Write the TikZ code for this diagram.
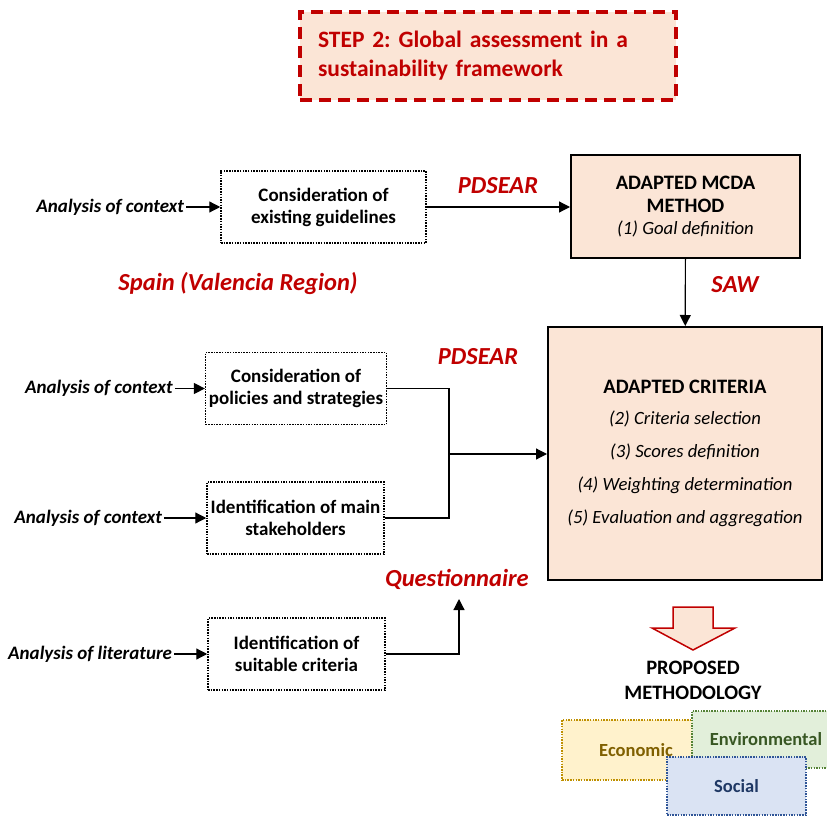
\documentclass[tikz,border=0pt]{standalone}
\usepackage{fontspec}
\setmainfont{Carlito}
\usetikzlibrary{positioning, arrows.meta}

\definecolor{darkred}{RGB}{192,0,0}
\definecolor{peach}{RGB}{251,229,214}
\definecolor{econfill}{RGB}{255,242,204}
\definecolor{econline}{RGB}{191,144,0}
\definecolor{econtext}{RGB}{128,96,0}
\definecolor{envfill}{RGB}{226,239,218}
\definecolor{envline}{RGB}{84,130,53}
\definecolor{envtext}{RGB}{56,87,35}
\definecolor{socfill}{RGB}{218,227,243}
\definecolor{socline}{RGB}{47,85,151}
\definecolor{soctext}{RGB}{31,56,100}

\begin{document}
\frenchspacing
\begin{tikzpicture}[x=1pt, y=-1pt,
  every node/.style={font=\fontsize{19}{22}\selectfont},
  dotbox/.style={draw, line width=1.5pt, dash pattern=on 1.5pt off 1.2pt,
    minimum height=72, align=center, font=\fontsize{19}{22}\selectfont\bfseries},
  mainbox/.style={draw, line width=2pt, fill=peach, align=center},
  ctxlab/.style={inner sep=2pt, font=\fontsize{19}{22}\selectfont\bfseries\itshape},
  redlab/.style={text=darkred, font=\fontsize{24.5}{28}\selectfont\bfseries\itshape},
  colbox/.style={line width=1.5pt, dash pattern=on 1.5pt off 1.2pt,
    font=\fontsize{18.5}{22}\selectfont\bfseries},
  arr/.style={-{Triangle[length=11pt, width=11pt]}, line width=1.2pt}]
\useasboundingbox (0,0) rectangle (827,818);

% title
\node (step) [draw=darkred, line width=3.5pt, dash pattern=on 12pt off 7pt,
  fill=peach, minimum height=88, text width=340, inner xsep=18pt, align=left,
  text=darkred, font=\fontsize{23.5}{29}\selectfont\bfseries] at (488,56)
  {STEP 2: Global assessment in a\\sustainability framework};

% left column
\node (guide) [dotbox, minimum width=205] at (323.5,207) {Consideration of\\existing guidelines};
\node (policy) [dotbox, minimum width=178] at (296,388.5) {Consideration of\\policies and strategies};
\node (stake) [dotbox, minimum width=177] at (295.5,518) {Identification of main\\stakeholders};
\node (suit) [dotbox, minimum width=177] at (296.5,654) {Identification of\\suitable criteria};

\node (ctx1) [ctxlab, left=34pt of guide] {Analysis of context};
\node (ctx2) [ctxlab, left=30pt of policy] {Analysis of context};
\node (ctx3) [ctxlab, left=42pt of stake] {Analysis of context};
\node (lit) [ctxlab, left=33pt of suit] {Analysis of literature};

% right column
\node (mcda) [mainbox, minimum width=229, minimum height=103] at (685.5,206.5)
  {\fontsize{20.5}{24}\selectfont\bfseries ADAPTED MCDA\\[1pt]
   \fontsize{20.5}{24}\selectfont\bfseries METHOD\\
   \fontsize{18.7}{22}\selectfont\itshape (1) Goal definition};
\node (crit) [mainbox, minimum width=274, minimum height=253,
  font=\fontsize{18.7}{22}\selectfont\itshape] at (685,453.5)
  {{\fontsize{20.5}{24}\selectfont\bfseries\upshape ADAPTED CRITERIA}\\[9pt]
   (2) Criteria selection\\[11pt]
   (3) Scores definition\\[11pt]
   (4) Weighting determination\\[11pt]
   (5) Evaluation and aggregation};

% red labels
\node (pd1) [redlab] at (498,186) {PDSEAR};
\node (spain) [redlab] at (238,283) {Spain (Valencia Region)};
\node (saw) [redlab] at (735,285) {SAW};
\node (pd2) [redlab] at (478,357) {PDSEAR};
\node (quest) [redlab] at (457,579) {Questionnaire};

% connectors
\draw[arr] (ctx1) -- (guide);
\draw[arr] (ctx2) -- (policy);
\draw[arr] (ctx3) -- (stake);
\draw[arr] (lit) -- (suit);
\draw[arr] (guide.east) -- (guide.east -| mcda.west);
\draw[arr] (mcda) -- (crit);
\coordinate (join) at (449,454);
\draw[line width=1.2pt] (policy.east) -| (join);
\draw[line width=1.2pt] (stake.east) -| (join);
\draw[arr] (join) -- (join -| crit.west);
\coordinate (qtip) at (459,599);
\draw[arr] (suit.east) -| (qtip);

% outcome
\draw[darkred, line width=1.5pt, fill=peach]
  (673,607) -- (713,607) -- (713,628) -- (735,628) -- (693,650)
  -- (652,628) -- (673,628) -- cycle;
\node (method) [align=center, font=\fontsize{20.5}{25}\selectfont\bfseries] at (693,680)
  {PROPOSED\\METHODOLOGY};

\node (econ) [colbox, draw=econline, fill=econfill, text=econtext,
  minimum width=148, minimum height=60] at (636,750) {Economic};
\node (env) [colbox, draw=envline, fill=envfill, text=envtext,
  minimum width=148, minimum height=57] at (766,739.5) {Environmental};
\node (soc) [colbox, draw=socline, fill=socfill, text=soctext,
  minimum width=139, minimum height=58] at (736.5,786) {Social};
\end{tikzpicture}
\end{document}
